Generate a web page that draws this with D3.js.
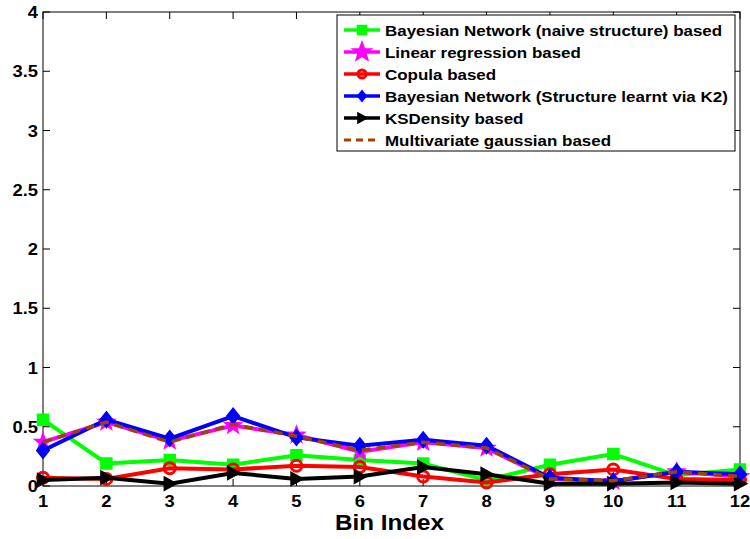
<!DOCTYPE html>
<html>
<head>
<meta charset="utf-8">
<script src="https://cdn.jsdelivr.net/npm/d3@7"></script>
<style>
  html, body { margin: 0; padding: 0; background: #fff; }
  svg { display: block; font-family: "Liberation Sans", Arial, sans-serif; }
</style>
</head>
<body>
<svg id="chart" width="750" height="539"></svg>
<script>
// Bin indices along the x axis
const bins = [1, 2, 3, 4, 5, 6, 7, 8, 9, 10, 11, 12];

// Per-bin error values for each method
const bnNaive   = [0.56, 0.19, 0.22, 0.18, 0.26, 0.22, 0.19, 0.05, 0.18, 0.27, 0.09, 0.14];
const linReg    = [0.37, 0.54, 0.38, 0.51, 0.43, 0.29, 0.37, 0.32, 0.06, 0.04, 0.12, 0.08];
const copula    = [0.07, 0.06, 0.15, 0.14, 0.17, 0.16, 0.08, 0.03, 0.10, 0.14, 0.06, 0.05];
const bnK2      = [0.30, 0.56, 0.40, 0.59, 0.41, 0.34, 0.39, 0.34, 0.07, 0.04, 0.12, 0.10];
const ksDensity = [0.05, 0.07, 0.02, 0.11, 0.06, 0.08, 0.16, 0.10, 0.02, 0.02, 0.03, 0.02];
const mvGauss   = [0.37, 0.54, 0.37, 0.52, 0.42, 0.30, 0.37, 0.32, 0.06, 0.045, 0.12, 0.08];

const yTicks = [0, 0.5, 1, 1.5, 2, 2.5, 3, 3.5, 4];
const yTickLabels = ["0", "0.5", "1", "1.5", "2", "2.5", "3", "3.5", "4"];
const xLabel = "Bin Index";

const series = [
  { name: "Bayesian Network (naive structure) based", values: bnNaive, color: "#00ff00", marker: "square" },
  { name: "Linear regression based", values: linReg, color: "#ff00ff", marker: "star" },
  { name: "Copula based", values: copula, color: "#ff0000", marker: "circle" },
  { name: "Bayesian Network (Structure learnt via K2)", values: bnK2, color: "#0000ff", marker: "diamond" },
  { name: "KSDensity based", values: ksDensity, color: "#000000", marker: "triangleRight" },
  { name: "Multivariate gaussian based", values: mvGauss, color: "#a0400a", marker: "none", dashed: true }
];

const svg = d3.select("#chart");
const margin = { left: 43, right: 10, top: 12, bottom: 53 };
const W = 750, H = 539;

const x = d3.scaleLinear().domain([1, 12]).range([margin.left, W - margin.right]);
const y = d3.scaleLinear().domain([0, 4]).range([H - margin.bottom, margin.top]);

const x0 = x.range()[0], x1 = x.range()[1];
const y0 = y.range()[0], y1 = y.range()[1];
const tickLen = 7;

// Text placed at (px, py) and widened horizontally by sx
function label(g, px, py, str, size, anchor, sx) {
  return g.append("text")
    .attr("transform", `translate(${px},${py}) scale(${sx},1)`)
    .attr("text-anchor", anchor)
    .attr("font-size", size).attr("font-weight", "bold")
    .text(str);
}

// Axis frame
const frame = svg.append("g");
frame.append("rect")
  .attr("x", x0).attr("y", y1)
  .attr("width", x1 - x0).attr("height", y0 - y1)
  .attr("fill", "none").attr("stroke", "#000").attr("stroke-width", 1);

// Inward ticks on all four sides
bins.forEach(b => {
  frame.append("line").attr("x1", x(b)).attr("x2", x(b)).attr("y1", y0).attr("y2", y0 - tickLen).attr("stroke", "#000");
  frame.append("line").attr("x1", x(b)).attr("x2", x(b)).attr("y1", y1).attr("y2", y1 + tickLen).attr("stroke", "#000");
});
yTicks.forEach(t => {
  frame.append("line").attr("x1", x0).attr("x2", x0 + tickLen).attr("y1", y(t)).attr("y2", y(t)).attr("stroke", "#000");
  frame.append("line").attr("x1", x1).attr("x2", x1 - tickLen).attr("y1", y(t)).attr("y2", y(t)).attr("stroke", "#000");
});

// Tick labels
const xt = svg.append("g");
bins.forEach(b => label(xt, x(b), y0 + 21, String(b), 17, "middle", 1.08));
const yt = svg.append("g");
yTicks.forEach((t, i) => label(yt, x0 - 5, y(t) + 6, yTickLabels[i], 17, "end", 1.08));

label(svg, (x0 + x1) / 2 - 2, 530, xLabel, 22, "middle", 1.1);

// Marker shapes
function markerPath(kind, s) {
  switch (kind) {
    case "square": return `M${-s/2},${-s/2}H${s/2}V${s/2}H${-s/2}Z`;
    case "circle": return d3.symbol(d3.symbolCircle, Math.PI * (s/2) * (s/2))();
    case "diamond": return `M0,${-s*0.6}L${s*0.48},0L0,${s*0.6}L${-s*0.48},0Z`;
    case "triangleRight": return `M${s*0.55},0L${-s*0.45},${-s*0.55}L${-s*0.45},${s*0.55}Z`;
    case "star": {
      const pts = [];
      for (let i = 0; i < 10; i++) {
        const r = i % 2 === 0 ? s * 0.62 : s * 0.26;
        const a = -Math.PI / 2 + i * Math.PI / 5;
        pts.push([r * Math.cos(a), r * Math.sin(a)]);
      }
      return "M" + pts.map(p => p.join(",")).join("L") + "Z";
    }
    default: return "";
  }
}

function drawMarker(g, kind, color, cx, cy, s) {
  if (kind === "none") return;
  const p = g.append("path")
    .attr("d", markerPath(kind, s))
    .attr("transform", `translate(${cx},${cy})`);
  if (kind === "circle") {
    p.attr("fill", "none").attr("stroke", color).attr("stroke-width", 3);
  } else {
    p.attr("fill", color).attr("stroke", color).attr("stroke-width", 1.5);
  }
}

const markerSize = { square: 11, star: 14, circle: 11, diamond: 13, triangleRight: 12 };

const line = d3.line().x((d, i) => x(bins[i])).y(d => y(d));

const plot = svg.append("g");
series.forEach(s => {
  const g = plot.append("g");
  g.append("path")
    .attr("d", line(s.values))
    .attr("fill", "none")
    .attr("stroke", s.color)
    .attr("stroke-width", s.dashed ? 3.5 : 4)
    .attr("stroke-dasharray", s.dashed ? "9,6" : null);
  s.values.forEach((v, i) => {
    drawMarker(g, s.marker, s.color, x(bins[i]), y(v), markerSize[s.marker]);
  });
});

// Legend
const lg = svg.append("g");
const lx = 337, ly = 15, lw = 398, lh = 136;
lg.append("rect").attr("x", lx).attr("y", ly).attr("width", lw).attr("height", lh)
  .attr("fill", "#fff").attr("stroke", "#000").attr("stroke-width", 1);
series.forEach((s, i) => {
  const cy = 30 + i * 22;
  lg.append("line")
    .attr("x1", 344).attr("x2", 380).attr("y1", cy).attr("y2", cy)
    .attr("stroke", s.color).attr("stroke-width", s.dashed ? 3 : 3.5)
    .attr("stroke-dasharray", s.dashed ? "7,5" : null);
  const ms = s.marker === "circle" ? 8 : s.marker === "star" ? 16 : 9;
  drawMarker(lg, s.marker, s.color, 362, cy, ms);
  label(lg, 385, cy + 5.5, s.name, 15, "start", 1.13);
});
</script>
</body>
</html>
